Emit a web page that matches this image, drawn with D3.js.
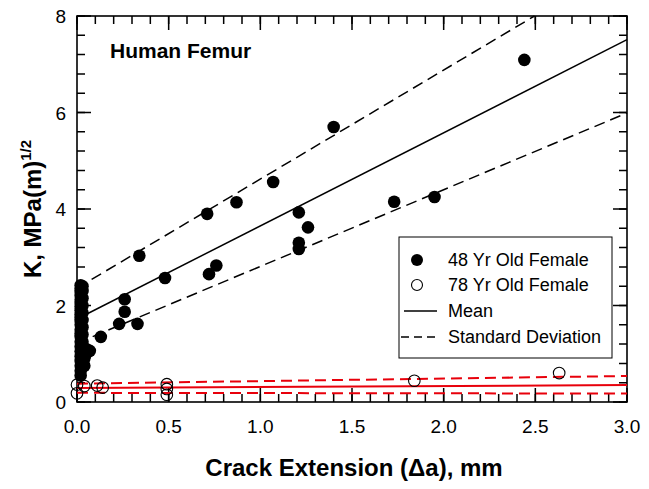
<!DOCTYPE html>
<html>
<head>
<meta charset="utf-8">
<script src="https://cdn.jsdelivr.net/npm/d3@7"></script>
<style>
  body { margin: 0; background: #fff; }
  text { font-family: Arial, "Liberation Sans", sans-serif; }
</style>
</head>
<body>
<div id="chart"></div>
<script>
// 48 yr old female (filled)
const female48X = [
  0.02, 0.02, 0.02, 0.02, 0.02, 0.02, 0.02, 0.02, 0.02, 0.02, 0.02, 0.02,
  0.02, 0.02, 0.02, 0.02, 0.02, 0.02, 0.02, 0.02, 0.02, 0.02, 0.02,
  0.03, 0.03, 0.03, 0.03, 0.03, 0.03, 0.03, 0.03, 0.03, 0.03, 0.03,
  0.05, 0.05, 0.04, 0.04,
  0.07, 0.13, 0.23, 0.26, 0.26, 0.33, 0.34, 0.48, 0.72, 0.76,
  0.71, 0.87, 1.07, 1.21, 1.21, 1.21, 1.26, 1.40, 1.73, 1.95, 2.44
];
const female48Y = [
  2.42, 2.35, 2.28, 2.20, 2.12, 2.05, 1.98, 1.90, 1.82, 1.75, 1.68, 1.60,
  1.50, 1.42, 1.35, 1.25, 1.15, 1.05, 0.95, 0.85, 0.75, 0.65, 0.55,
  2.40, 2.30, 2.15, 2.00, 1.85, 1.70, 1.55, 1.40, 1.25, 1.10, 0.80,
  1.10, 1.00, 0.90, 0.75,
  1.06, 1.35, 1.62, 2.13, 1.87, 1.62, 3.03, 2.57, 2.65, 2.83,
  3.90, 4.14, 4.56, 3.93, 3.30, 3.17, 3.62, 5.70, 4.15, 4.25, 7.09
];
// 78 yr old female (open)
const female78X = [0.00, 0.00, 0.04, 0.11, 0.14, 0.49, 0.49, 0.49, 1.84, 2.63];
const female78Y = [0.36, 0.18, 0.33, 0.34, 0.30, 0.37, 0.27, 0.15, 0.44, 0.60];

// fitted lines [intercept, slope]
const mean48 = [1.72, 1.93];
const upper48 = [2.36, 2.26];
const lower48 = [1.22, 1.59];
const mean78 = [0.29, 0.02];
const upper78 = [0.38, 0.053];
const lower78 = [0.19, -0.005];

const xMajor = [0, 0.5, 1.0, 1.5, 2.0, 2.5, 3.0];
const yMajor = [0, 2, 4, 6, 8];
const legendLabels = ["48 Yr Old Female", "78 Yr Old Female", "Mean", "Standard Deviation"];

const W = 649, H = 489;
const margin = { top: 16, right: 22, bottom: 87, left: 77 };

const svg = d3.select("#chart").append("svg")
  .attr("width", W).attr("height", H);

const x = d3.scaleLinear().domain([0, 3]).range([margin.left, W - margin.right]);
const y = d3.scaleLinear().domain([0, 8]).range([H - margin.bottom, margin.top]);

const xMinor = d3.range(0, 3.0001, 0.1).map(v => +v.toFixed(2));
const yMinor = d3.range(0, 8.0001, 0.4).map(v => +v.toFixed(2));

// frame
svg.append("rect")
  .attr("x", x(0)).attr("y", y(8))
  .attr("width", x(3) - x(0)).attr("height", y(0) - y(8))
  .attr("fill", "none").attr("stroke", "#000").attr("stroke-width", 1.6);

// inward ticks on all four sides, as one path each
function tickPath(vals, len, horizontal) {
  let d = "";
  vals.forEach(v => {
    if (horizontal) {
      d += `M${x(v)},${y(0)}V${y(0) - len}`;
      d += `M${x(v)},${y(8)}V${y(8) + len}`;
    } else {
      d += `M${x(0)},${y(v)}H${x(0) + len}`;
      d += `M${x(3)},${y(v)}H${x(3) - len}`;
    }
  });
  svg.append("path").attr("d", d)
    .attr("fill", "none").attr("stroke", "#000").attr("stroke-width", 1.5);
}
tickPath(xMinor, 8, true);
tickPath(xMajor, 14, true);
tickPath(yMinor, 8, false);
tickPath(yMajor, 14, false);

// tick labels
svg.append("g").selectAll("text").data(xMajor).join("text")
  .attr("x", d => x(d)).attr("y", 433)
  .attr("text-anchor", "middle").attr("font-size", 19)
  .text(d3.format(".1f"));
svg.append("g").selectAll("text").data(yMajor).join("text")
  .attr("x", 66).attr("y", d => y(d) + 7)
  .attr("text-anchor", "end").attr("font-size", 19)
  .text(d3.format("d"));

// lines
const fit = (c, x0, x1) => [[x0, c[0] + c[1] * x0], [x1, c[0] + c[1] * x1]];
const clipX = c => c[1] > 0 ? Math.min(3, (8 - c[0]) / c[1]) : 3;
const line = d3.line().x(d => x(d[0])).y(d => y(d[1]));

function drawLine(c, color, dashed, width) {
  svg.append("path")
    .attr("d", line(fit(c, 0, clipX(c))))
    .attr("fill", "none")
    .attr("stroke", color)
    .attr("stroke-width", width)
    .attr("stroke-dasharray", dashed ? "11,6" : null);
}
drawLine(mean48, "#000", false, 1.5);
drawLine(upper48, "#000", true, 1.5);
drawLine(lower48, "#000", true, 1.5);
drawLine(mean78, "#e8000b", false, 2);
drawLine(upper78, "#e8000b", true, 2);
drawLine(lower78, "#e8000b", true, 2);

// points
const pts48 = female48X.map((v, i) => [v, female48Y[i]]);
const pts78 = female78X.map((v, i) => [v, female78Y[i]]);

svg.append("g").selectAll("circle").data(pts78).join("circle")
  .attr("cx", d => x(d[0])).attr("cy", d => y(d[1])).attr("r", 5.8)
  .attr("fill", "none").attr("stroke", "#000").attr("stroke-width", 1.1);

svg.append("g").selectAll("circle").data(pts48).join("circle")
  .attr("cx", d => x(d[0])).attr("cy", d => y(d[1])).attr("r", 6.3)
  .attr("fill", "#000");

// annotation
svg.append("text")
  .attr("x", 110).attr("y", 58)
  .attr("font-size", 21).attr("font-weight", "bold")
  .text("Human Femur");

// legend
const lg = svg.append("g");
lg.append("rect")
  .attr("x", 399).attr("y", 237).attr("width", 213).attr("height", 121)
  .attr("fill", "#fff").attr("stroke", "#000").attr("stroke-width", 1);
const rows = [260, 285, 311, 337];
lg.append("circle").attr("cx", 417).attr("cy", rows[0]).attr("r", 6).attr("fill", "#000");
lg.append("circle").attr("cx", 417).attr("cy", rows[1]).attr("r", 5.5)
  .attr("fill", "none").attr("stroke", "#000").attr("stroke-width", 1.1);
lg.append("line").attr("x1", 404).attr("x2", 437).attr("y1", rows[2]).attr("y2", rows[2])
  .attr("stroke", "#000").attr("stroke-width", 1.5);
lg.append("line").attr("x1", 401).attr("x2", 437).attr("y1", rows[3]).attr("y2", rows[3])
  .attr("stroke", "#000").attr("stroke-width", 1.5).attr("stroke-dasharray", "8,5");
lg.selectAll("text.lab").data(legendLabels).join("text")
  .attr("class", "lab")
  .attr("x", 448).attr("y", (d, i) => rows[i] + 6)
  .attr("font-size", 18)
  .text(d => d);

// axis titles
svg.append("text")
  .attr("x", 354).attr("y", 476)
  .attr("text-anchor", "middle")
  .attr("font-size", 24).attr("font-weight", "bold")
  .text("Crack Extension (\u0394a), mm");

const yt = svg.append("text")
  .attr("transform", `translate(41,${(y(0) + y(8)) / 2}) rotate(-90)`)
  .attr("text-anchor", "middle")
  .attr("font-size", 24).attr("font-weight", "bold");
yt.append("tspan").text("K, MPa(m)");
yt.append("tspan").attr("font-size", 15).attr("dy", -10).text("1/2");
</script>
</body>
</html>
